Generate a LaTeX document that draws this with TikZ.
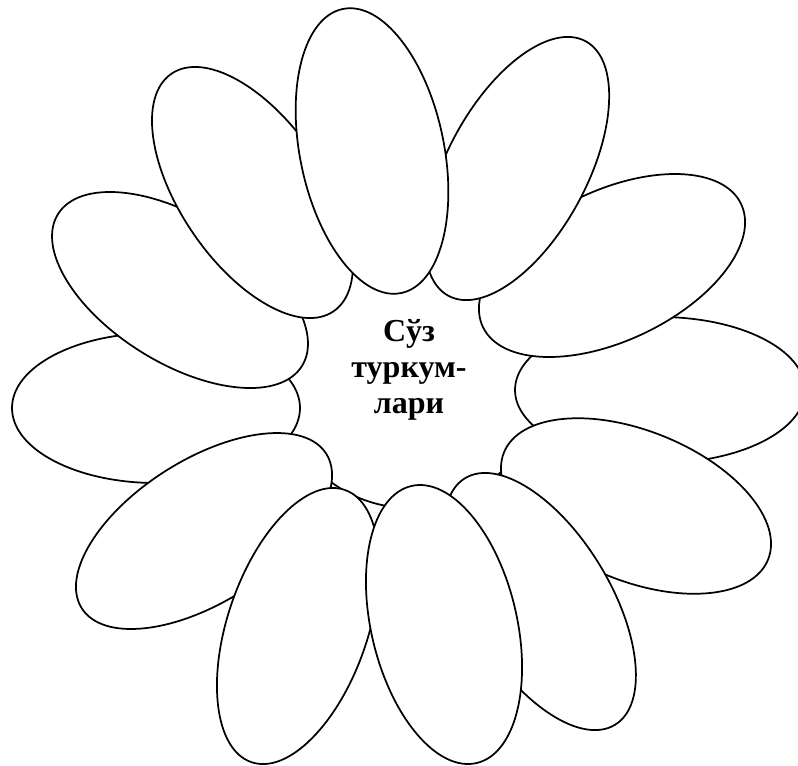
\documentclass[tikz,border=0pt]{standalone}
\usepackage{fontspec}
\setmainfont{Liberation Serif}
\begin{document}
\begin{tikzpicture}[x=0.75pt,y=-0.75pt,
  petal/.style={draw=black, fill=white, line width=1.3pt},
  lbl/.style={font=\fontsize{24}{27}\selectfont\bfseries, anchor=base, inner sep=0pt}]
\useasboundingbox (0,0) rectangle (798,765);
% centre disc
\draw[petal] (410,375) circle [radius=133];
% petals, drawn from the lowest layer up
\draw[petal, rotate around={0:(660,390)}] (660,390) ellipse [x radius=145, y radius=73];        % D
\draw[petal, rotate around={0:(156,408)}] (156,408) ellipse [x radius=144, y radius=75];        % J
\draw[petal, rotate around={25.5:(612,265.5)}] (612,265.5) ellipse [x radius=143, y radius=75]; % C
\draw[petal, rotate around={-22.1:(636,506)}] (636,506) ellipse [x radius=142.5, y radius=75];  % E
\draw[petal, rotate around={32.3:(204,531)}] (204,531) ellipse [x radius=144.6, y radius=71.3]; % I
\draw[petal, rotate around={-31.9:(180,290)}] (180,290) ellipse [x radius=143.7, y radius=73];  % K
\draw[petal, rotate around={61.7:(517,168.5)}] (517,168.5) ellipse [x radius=144.6, y radius=70]; % B
\draw[petal, rotate around={-58.7:(540,601.5)}] (540,601.5) ellipse [x radius=144.3, y radius=70]; % F
\draw[petal, rotate around={71.1:(298,626)}] (298,626) ellipse [x radius=143.9, y radius=70.1]; % H
\draw[petal, rotate around={-55.7:(252.5,192.5)}] (252.5,192.5) ellipse [x radius=143.8, y radius=72]; % L
\draw[petal, rotate around={101.6:(372,151)}] (372,151) ellipse [x radius=145, y radius=72];    % A
\draw[petal, rotate around={-76.7:(444,624.5)}] (444,624.5) ellipse [x radius=142.3, y radius=72.8]; % G
% label
\node[lbl] (t1) at (409,341) {Сўз};
\node[lbl] (t2) at (409,377) {туркум-};
\node[lbl] (t3) at (409,413) {лари};
\end{tikzpicture}
\end{document}
